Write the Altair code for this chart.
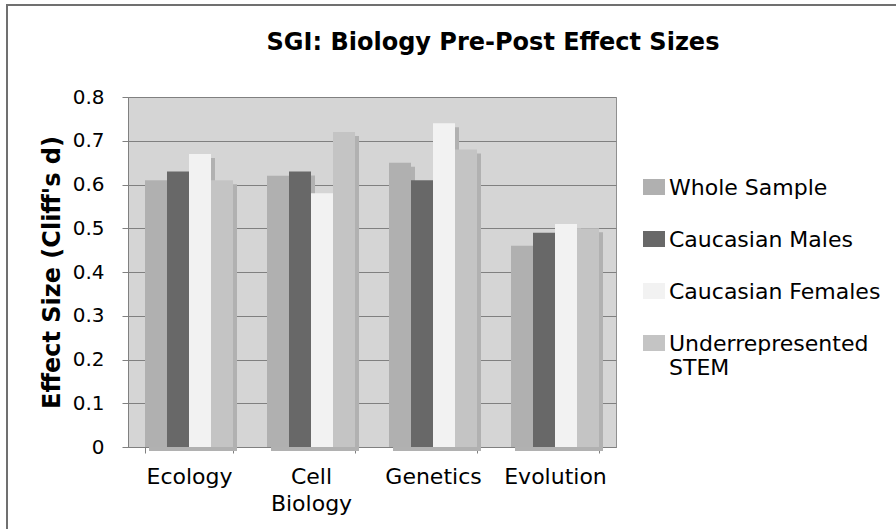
import altair as alt
import pandas as pd

categories = ["Ecology", "Cell Biology", "Genetics", "Evolution"]
series = ["Whole Sample", "Caucasian Males", "Caucasian Females", "Underrepresented STEM"]
colors = ["#b0b0b0", "#686868", "#f2f2f2", "#c4c4c4"]
whole_sample = [0.61, 0.62, 0.65, 0.46]
caucasian_males = [0.63, 0.63, 0.61, 0.49]
caucasian_females = [0.67, 0.58, 0.74, 0.51]
underrepresented = [0.61, 0.72, 0.68, 0.50]
y_ticks = [0, 0.1, 0.2, 0.3, 0.4, 0.5, 0.6, 0.7, 0.8]

rows = []
for i, cat in enumerate(categories):
    for s, vals in zip(series, [whole_sample, caucasian_males, caucasian_females, underrepresented]):
        rows.append({"category": cat, "series": s, "value": vals[i]})
df = pd.DataFrame(rows)

FONT = "DejaVu Sans"

x_enc = alt.X(
    "category:N", sort=categories,
    scale=alt.Scale(paddingInner=0.2787, paddingOuter=0.13934),
    axis=alt.Axis(
        title=None, labelAngle=0, labelFont=FONT, labelFontSize=22, labelColor="black",
        labelPadding=13, labelLineHeight=27, tickSize=6, tickBand="extent",
        domainColor="#808080", tickColor="#808080", grid=False,
        labelExpr="datum.label == 'Cell Biology' ? ['Cell', 'Biology'] : datum.label",
    ),
)
y_enc = alt.Y(
    "value:Q", scale=alt.Scale(domain=[0, 0.8], nice=False),
    axis=alt.Axis(
        title="Effect Size (Cliff's d)", titleFont=FONT, titleFontSize=24, titleFontWeight="bold",
        titleColor="black", titlePadding=8,
        values=y_ticks, labelExpr="datum.value == 0 ? '0' : format(datum.value, '.1f')",
        labelFont=FONT, labelFontSize=20, labelColor="black", labelPadding=18, tickSize=6,
        domainColor="#808080", tickColor="#808080", gridColor="#808080", gridWidth=1, grid=True,
    ),
)

shadow = alt.Chart(df).mark_bar(color="#b1b1b1", yOffset=4).encode(
    x=x_enc, y=y_enc,
    xOffset=alt.XOffset("series:N", sort=series, scale=alt.Scale(range=[4, 92])),
)

bars = alt.Chart(df).mark_bar().encode(
    x=x_enc, y=y_enc,
    xOffset=alt.XOffset("series:N", sort=series, scale=alt.Scale(range=[0, 88])),
    color=alt.Color(
        "series:N", sort=series, scale=alt.Scale(domain=series, range=colors),
        legend=alt.Legend(
            title=None, orient="none", legendX=515, legendY=87, padding=0,
            symbolType="M-1.375,-2H1.375V0H-1.375Z", symbolSize=256, symbolStrokeWidth=0,
            symbolOpacity=1,
            labelFont=FONT, labelFontSize=22, labelColor="black", labelBaseline="alphabetic",
            labelOffset=4, labelLimit=0, rowPadding=30,
            labelExpr="datum.label == 'Underrepresented STEM' ? ['Underrepresented', 'STEM'] : datum.label",
        ),
    ),
)

chart = alt.layer(shadow, bars).resolve_scale(xOffset="independent").properties(
    width=488, height=350,
    title=alt.TitleParams(
        "SGI: Biology Pre-Post Effect Sizes", font=FONT, fontSize=24, fontWeight="bold",
        color="black", anchor="middle", dx=121, offset=32,
    ),
    autosize=alt.AutoSizeParams(type="none"),
    padding={"left": 120, "top": 89, "right": 272, "bottom": 74},
    background="white",
).configure_view(fill="#d5d5d5", stroke="#909090", strokeWidth=1)

chart.save("out.html", embed_options={"renderer": "svg", "actions": False})

with open("out.html", encoding="utf-8") as f:
    html = f.read()
style = ("<style>html,body{overflow:hidden;}"
         "body::before{content:'';position:fixed;left:6px;top:4px;width:2000px;"
         "height:2000px;border-left:2px solid #707070;border-top:2px solid #707070;"
         "pointer-events:none;}</style>")
html = html.replace("</head>", style + "</head>", 1)
with open("out.html", "w", encoding="utf-8") as f:
    f.write(html)
